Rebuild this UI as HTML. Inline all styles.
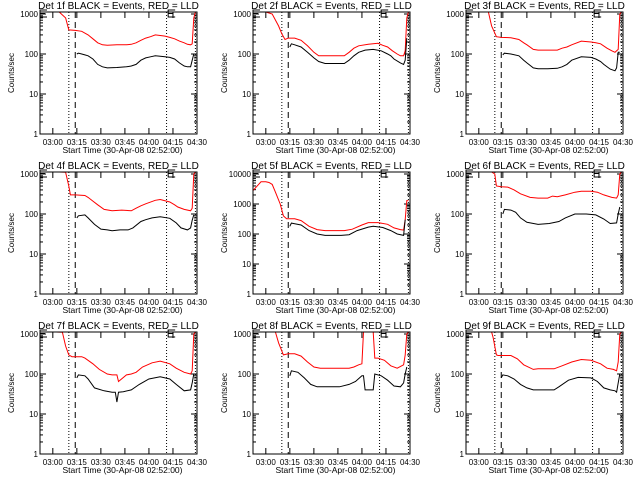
<!DOCTYPE html>
<html><head><meta charset="utf-8">
<style>
html,body{margin:0;padding:0;background:#fff;}
svg{display:block;font-family:"Liberation Sans",sans-serif;}
</style></head>
<body>
<svg id="chart" width="640" height="480" viewBox="0 0 640 480" xmlns="http://www.w3.org/2000/svg"></svg>
<script>
// times in minutes since 02:52:00
const tickLabels = ["03:00","03:15","03:30","03:45","04:00","04:15","04:30"];
const tickMinutes = [8,23,38,53,68,83,98];
const markerDotted = [18,79,97];
const markerDashed = [22];
const detNames = ["1f","2f","3f","4f","5f","6f","7f","8f","9f"];
const yMaxDecades = [3,3,3,3,4,3,3,3,3];

const red1T=[12,16,18,22,26,30,33,36,39,42,48,54,57,60,63,66,69,72,75,78,81,84,87,90,92,94,95,96,97];
const red1V=[2000,800,400,390,370,300,240,190,170,165,170,170,175,190,220,250,270,300,290,280,260,240,210,190,175,170,180,800,2000];
const blk1T=[23,24,26,28,30,33,36,39,42,48,54,57,60,63,66,69,72,75,78,81,84,87,90,92,94,95,96];
const blk1V=[100,105,100,95,90,75,55,48,45,46,48,50,55,70,80,85,90,88,85,82,75,60,50,48,48,70,100];

const red2T=[8,12,16,18,20,22,26,30,34,38,41,45,51,57,60,63,66,72,78,81,84,87,90,92,94,95,96,97];
const red2V=[2000,1000,500,320,230,250,250,220,160,110,90,90,90,90,110,140,160,175,185,165,150,120,100,90,90,120,800,2000];
const blk2T=[23,24,26,30,34,38,41,45,51,57,60,63,66,70,75,80,84,86,88,92,94,95,96];
const blk2V=[150,180,170,150,110,80,65,58,58,58,70,90,110,125,130,120,100,90,75,60,55,70,250];

const red3T=[10,14,16,19,22,28,33,36,38,42,45,51,57,60,63,66,72,78,81,84,88,91,93,95,96,97];
const red3V=[2000,1200,500,270,260,255,230,190,170,130,125,125,125,140,150,170,210,200,190,180,140,120,110,130,1000,2000];
const blk3T=[23,24,28,33,36,38,42,45,51,57,60,63,66,72,78,81,84,86,90,93,94,95,96];
const blk3V=[95,105,100,90,70,60,45,43,43,44,48,55,70,85,82,75,65,55,42,38,45,110,110];

const red4T=[12,16,18,19,22,28,30,33,36,40,45,51,57,60,63,66,72,75,81,84,86,90,94,95,96,97];
const red4V=[2000,1100,500,300,300,290,260,210,170,130,120,125,120,140,160,180,220,230,200,170,150,130,120,140,1000,2000];
const blk4T=[23,24,28,30,34,38,42,45,50,55,58,63,66,70,75,81,85,88,92,94,95,96];
const blk4V=[80,90,95,80,55,42,40,38,40,40,45,65,72,80,85,78,60,45,40,45,70,95];

const red5T=[0,3,5,8,10,12,14,17,19,21,26,30,35,40,45,51,57,62,68,72,78,84,88,92,94,95,96,97];
const red5V=[2800,4200,5500,5500,5200,4500,2500,1000,400,320,320,280,180,140,130,130,130,145,200,240,240,210,160,140,135,300,1300,1300];
const blk5T=[23,24,26,30,35,40,45,50,55,60,65,72,75,81,86,90,94,95];
const blk5V=[180,230,220,200,130,100,90,90,90,95,130,170,180,165,130,100,90,300];

const red6T=[12,16,18,19,22,26,30,34,40,45,51,54,57,62,68,72,78,82,86,91,94,95,96,97];
const red6V=[2000,1500,1000,500,480,470,400,320,260,250,250,280,270,300,350,370,370,350,300,260,250,300,1000,2000];
const blk6T=[23,24,28,31,34,38,45,52,58,62,68,75,81,86,90,94,95,96];
const blk6V=[100,130,125,110,80,62,55,58,65,80,100,100,95,75,58,60,100,150];

const red7T=[10,14,16,18,20,26,28,33,37,42,45,48,49,54,57,60,64,70,75,81,85,90,94,95,96,97];
const red7V=[2000,1100,500,300,270,270,250,180,130,100,95,95,65,95,100,110,150,190,210,180,140,110,100,120,1000,2000];
const blk7T=[23,24,28,30,34,40,45,47,48,49,52,57,62,68,75,81,85,90,94,95,96];
const blk7V=[80,95,90,75,45,38,35,35,20,35,36,40,55,75,85,75,55,38,40,60,100];

const red8T=[10,14,16,19,22,26,30,34,38,42,48,54,60,63,66,68,69,70,75,76,78,82,86,90,94,95,96,97];
const red8V=[2000,1200,600,300,320,320,280,200,150,140,140,140,140,150,170,180,2000,2000,2000,250,250,220,160,140,170,300,1000,2000];
const blk8T=[23,24,28,32,36,40,48,54,60,64,68,69,70,71,75,76,80,84,88,92,94,95,96];
const blk8V=[90,120,110,80,55,48,48,48,55,65,90,90,40,40,40,100,90,70,50,48,60,100,150];

const red9T=[12,16,17,19,20,28,32,36,42,45,55,60,66,72,78,84,88,92,94,95,96,97];
const red9V=[2000,1200,800,300,290,290,240,170,130,135,135,160,200,230,220,180,140,130,120,200,1000,2000];
const blk9T=[22,23,26,30,34,38,42,48,55,58,64,70,78,82,86,90,93,94,95,96];
const blk9V=[80,95,90,75,55,45,40,40,40,48,70,82,80,65,45,40,38,35,60,100];

const redT=[red1T,red2T,red3T,red4T,red5T,red6T,red7T,red8T,red9T];
const redV=[red1V,red2V,red3V,red4V,red5V,red6V,red7V,red8V,red9V];
const blkT=[blk1T,blk2T,blk3T,blk4T,blk5T,blk6T,blk7T,blk8T,blk9T];
const blkV=[blk1V,blk2V,blk3V,blk4V,blk5V,blk6V,blk7V,blk8V,blk9V];

const NS="http://www.w3.org/2000/svg";
const svg=document.getElementById('chart');
function mk(tag,attrs,parent){const e=document.createElementNS(NS,tag);for(const k in attrs)e.setAttribute(k,attrs[k]);(parent||svg).appendChild(e);return e;}

const colX=[0,213,426], rowY=[0,160,320];
const PL=40, PR=197, PT=12, PB=134, TMAX=98;

for(let p=0;p<9;p++){
  const ox=colX[p%3], oy=rowY[Math.floor(p/3)];
  const g=mk('g',{transform:`translate(${ox},${oy})`});
  
  
  const dec=yMaxDecades[p];
  const decPx=(PB-14)/dec;
  const topVal=dec+(14-PT)/decPx;
  const xs=t=>PL+t*(PR-PL)/TMAX;
  const ys=v=>{let l=Math.log10(v);if(l>topVal)l=topVal;if(l<0)l=0;return PB-l*decPx;};
  const clip='clip'+p;
  const cp=mk('clipPath',{id:clip},g); mk('rect',{x:PL,y:PT,width:PR-PL,height:PB-PT},cp);

  const tt=mk('text',{x:(PL+PR)/2,y:9,'text-anchor':'middle','font-size':'10'},g);
  tt.textContent='Det '+detNames[p]+' BLACK = Events, RED = LLD';
  
  
  const yt=mk('text',{x:0,y:0,transform:`translate(14,${(PT+PB)/2}) rotate(-90)`,'text-anchor':'middle','font-size':'8'},g);
  yt.textContent='Counts/sec';
  
  
  const xt=mk('text',{x:(PL+PR)/2+4,y:153,'text-anchor':'middle','font-size':'8.5'},g);
  xt.textContent='Start Time (30-Apr-08 02:52:00)';
  
  

  for(let d=0;d<=dec;d++){
    const y=PB-d*decPx;
    mk('line',{x1:PL,x2:PL+6,y1:y,y2:y,stroke:'#000','stroke-width':1},g);
    mk('line',{x1:PR,x2:PR-6,y1:y,y2:y,stroke:'#000','stroke-width':1},g);
    const lb=mk('text',{x:PL-2,y:y+3,'text-anchor':'end','font-size':'8'},g);
    lb.textContent=String(Math.pow(10,d));
    
    
    if(d<dec){for(let m=2;m<=9;m++){const ym=y-Math.log10(m)*decPx;
      mk('line',{x1:PL,x2:PL+3,y1:ym,y2:ym,stroke:'#000','stroke-width':1},g);
      mk('line',{x1:PR,x2:PR-3,y1:ym,y2:ym,stroke:'#000','stroke-width':1},g);}}
  }
  tickMinutes.forEach((t,i)=>{
    const x=xs(t);
    mk('line',{x1:x,x2:x,y1:PB,y2:PB-6,stroke:'#000'},g);
    mk('line',{x1:x,x2:x,y1:PT,y2:PT+6,stroke:'#000'},g);
    const lb=mk('text',{x:x,y:145,'text-anchor':'middle','font-size':'8'},g);
    lb.textContent=tickLabels[i];
    
    
  });
  markerDotted.forEach(t=>{const l=mk('line',{x1:xs(t),x2:xs(t),y1:PT,y2:PB,stroke:'#000','stroke-dasharray':'1,2'},g);
    });
  markerDashed.forEach(t=>{const l=mk('line',{x1:xs(t),x2:xs(t),y1:PT,y2:PB,stroke:'#000','stroke-dasharray':'6,4'},g);
    });
  [0,markerDotted[1]+1].forEach(t=>{const x=xs(t);
    const b=mk('path',{d:`M${x+7},${PT-2} L${x},${PT-2} L${x},${PT+5} L${x+7},${PT+5} M${x},${PT+1.5} L${x+5},${PT+1.5}`,fill:'none',stroke:'#000'},g);
    });

  function series(T,V,col,name){
    let d='';
    for(let i=0;i<T.length;i++){
      const x=xs(T[i]),y=ys(V[i]);
      d+=(i===0?'M':' L')+x.toFixed(1)+','+y.toFixed(1);
    }
    const pth=mk('path',{d:d,fill:'none',stroke:col,'stroke-width':1,'clip-path':`url(#${clip})`},g);
    
    
  }
  series(redT[p],redV[p],'#ff0000','lld-series');
  series(blkT[p],blkV[p],'#000000','events-series');

  const fr=mk('rect',{x:PL,y:PT,width:PR-PL,height:PB-PT,fill:'none',stroke:'#000','stroke-width':1},g);
  
  
}
</script>
</body></html>
